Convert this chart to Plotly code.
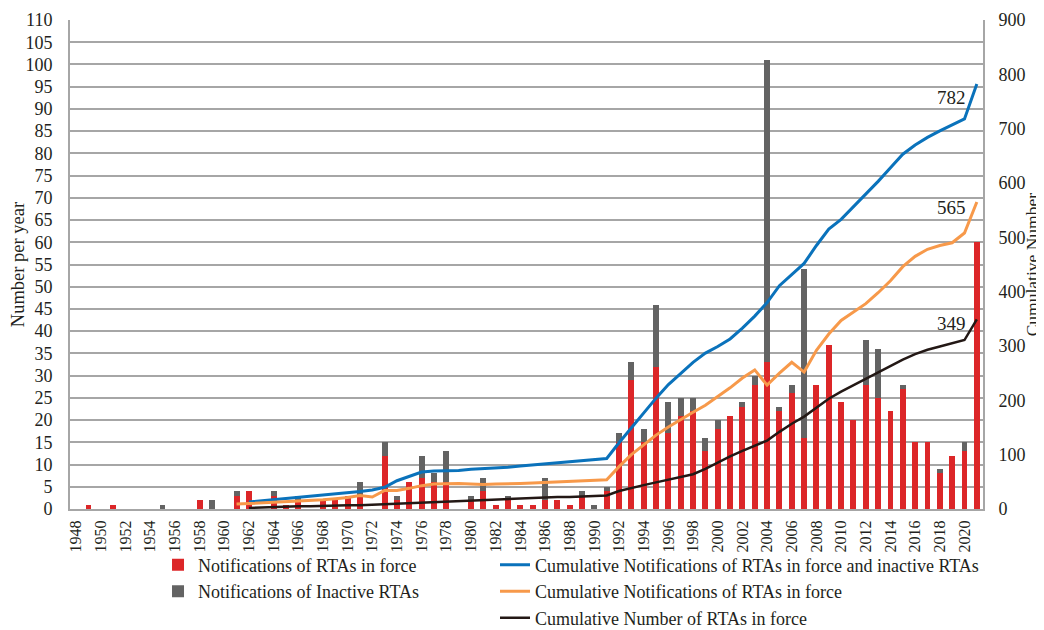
import plotly.graph_objects as go

years = list(range(1948, 2022))

# Notifications of RTAs in force (per year)
in_force = [0, 1, 0, 1, 0, 0, 0, 0, 0, 0, 2, 0, 0, 3, 4, 0, 3, 1, 2, 0,
            2, 2, 3, 3, 0, 12, 2, 6, 7, 6, 6, 0, 2, 4, 1, 2, 1, 1, 2, 2,
            1, 3, 0, 4, 15, 29, 15, 32, 17, 21, 22, 13, 18, 21, 23, 28, 33, 22, 26, 16,
            28, 37, 24, 20, 28, 25, 22, 27, 15, 15, 8, 12, 13, 60]

# Notifications of inactive RTAs (per year)
inactive = [0, 0, 0, 0, 0, 0, 0, 1, 0, 0, 0, 2, 0, 1, 0, 0, 1, 0, 1, 0,
            0, 0, 0, 3, 0, 3, 1, 0, 5, 2, 7, 0, 1, 3, 0, 1, 0, 0, 5, 0,
            0, 1, 1, 1, 2, 4, 3, 14, 7, 4, 3, 3, 2, 0, 1, 2, 68, 1, 2, 38,
            0, 0, 0, 0, 10, 11, 0, 1, 0, 0, 1, 0, 2, 0]

N = None
# Cumulative notifications of RTAs in force and inactive RTAs
cum_all = [N]*14 + [13, 15, 17, 19, 21, 23, 25, 27, 29, 32, 35, 40, 52, 60, 68, 70,
                    70, 71, 73, 74, 75, 77, 79, 81, 83, 85, 87, 89, 91, 93, 122, 150,
                    177, 204, 229, 249, 270, 287, 299, 313, 333, 355, 380, 411, 432, 452,
                    485, 515, 533, 556, 580, 603, 628, 653, 670, 684, 696, 707, 718, 782]

# Cumulative notifications of RTAs in force
cum_force = [N]*13 + [9, 10, 12, 13, 14, 15, 16, 17, 19, 21, 25, 22, 34, 34, 38, 43,
                      46, 47, 47, 46, 45, 46, 46, 47, 48, 49, 50, 51, 52, 53, 54, 78,
                      100, 118, 136, 151, 165, 178, 191, 207, 223, 241, 256, 228, 250, 270,
                      252, 292, 322, 347, 362, 378, 398, 420, 446, 465, 478, 485, 490, 508, 565]

# Cumulative number of RTAs in force
cum_number = [N]*14 + [2, 3, 3, 4, 5, 5, 6, 6, 7, 7, 8, 9, 10, 11, 12, 13,
                       14, 15, 16, 16, 17, 18, 19, 20, 21, 22, 22, 23, 24, 25, 33, 39,
                       44, 49, 54, 58, 64, 74, 86, 97, 107, 116, 126, 142, 157, 170,
                       186, 203, 216, 228, 240, 252, 264, 275, 285, 293, 299, 305, 311, 349]

end_labels = ["782", "565", "349"]
label_pos = [757, 555, 341]

x_ticks = list(range(1948, 2021, 2))
y_ticks = list(range(0, 111, 5))
y2_ticks = list(range(0, 901, 100))

FONT = "Liberation Serif"
TXT = "#231f20"
GRID = "#a6a6a6"
RED = "#dc2628"
GREY = "#636363"
BLUE = "#0a72bb"
ORANGE = "#f7994a"
BLACK = "#231815"

fig = go.Figure()
fig.add_trace(go.Bar(x=years, y=in_force, name="Notifications of RTAs in force",
                     marker=dict(color=RED, line=dict(width=0)), width=0.48,
                     legend="legend", legendgroup="a"))
fig.add_trace(go.Bar(x=years, y=inactive, name="Notifications of Inactive RTAs",
                     marker=dict(color=GREY, line=dict(width=0)), width=0.48,
                     legend="legend", legendgroup="b"))
fig.add_trace(go.Scatter(x=years, y=cum_all, yaxis="y2", mode="lines",
                         name="Cumulative Notifications of RTAs in force and inactive RTAs",
                         line=dict(color=BLUE, width=3), legend="legend2", legendgroup="c"))
fig.add_trace(go.Scatter(x=years, y=cum_force, yaxis="y2", mode="lines",
                         name="Cumulative Notifications of RTAs in force",
                         line=dict(color=ORANGE, width=3), legend="legend2", legendgroup="d"))
fig.add_trace(go.Scatter(x=years, y=cum_number, yaxis="y2", mode="lines",
                         name="Cumulative Number of RTAs in force",
                         line=dict(color=BLACK, width=2.5), legend="legend2", legendgroup="e"))

for t, v in zip(end_labels, label_pos):
    fig.add_annotation(x=2020.25, y=v, xref="x", yref="y2", text=t, showarrow=False,
                       xanchor="right", yanchor="middle",
                       font=dict(family=FONT, size=19, color=TXT))

# right-hand axis title (placed as rotated text so it stays inside the page)
fig.add_annotation(x=1.0535, y=0.5, xref="paper", yref="paper", text="Cumulative Number",
                   textangle=-90, showarrow=False, xanchor="center", yanchor="middle",
                   font=dict(family=FONT, size=17.5, color=TXT))

# the page body adds an 8 px offset, so the figure is sized to the visible area
fig.update_layout(
    width=1036, height=622,
    margin=dict(l=62, r=61, t=12, b=121, autoexpand=False),
    paper_bgcolor="white", plot_bgcolor="white",
    barmode="stack", bargap=0.5,
    font=dict(family=FONT, color=TXT, size=16),
    xaxis=dict(range=[1947.5, 2021.5], tickvals=x_ticks, ticktext=[str(v) for v in x_ticks],
               tickangle=-90, tickfont=dict(size=16), showgrid=False, zeroline=False,
               showline=True, linecolor=GRID, linewidth=2, ticks="", ticklabelstandoff=3,
               automargin=False),
    yaxis=dict(range=[0, 110], tickvals=y_ticks, tickfont=dict(size=18),
               showgrid=True, gridcolor=GRID, gridwidth=2, zeroline=False,
               showline=True, linecolor=GRID, linewidth=2, ticks="", ticklabelstandoff=12,
               automargin=False,
               title=dict(text="Number per year", font=dict(size=18.5), standoff=9)),
    yaxis2=dict(range=[0, 900], tickvals=y2_ticks, overlaying="y", side="right",
                tickfont=dict(size=18), showgrid=False, zeroline=False,
                showline=True, linecolor=GRID, linewidth=2, ticks="", ticklabelstandoff=10,
                automargin=False),
    legend=dict(x=0.0964, y=-0.077, xanchor="left", yanchor="top", orientation="v",
                font=dict(size=18), tracegroupgap=0, bgcolor="rgba(0,0,0,0)"),
    legend2=dict(x=0.4655, y=-0.077, xanchor="left", yanchor="top", orientation="v",
                 font=dict(size=18), tracegroupgap=0, bgcolor="rgba(0,0,0,0)"),
    showlegend=True,
)

fig.write_html("out.html")
